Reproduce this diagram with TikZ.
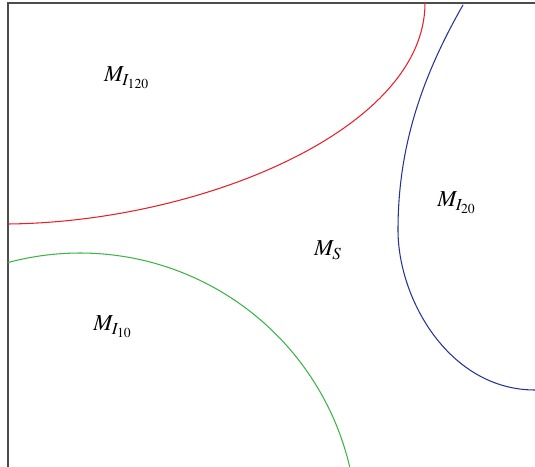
\documentclass[tikz,border=0pt]{standalone}
\usepackage{mathptmx}
\definecolor{curvered}{RGB}{232,30,40}
\definecolor{curveblue}{RGB}{40,50,150}
\definecolor{curvegreen}{RGB}{60,180,70}
\begin{document}
\begin{tikzpicture}[x=0.02cm,y=-0.02cm,line cap=round,
    region/.style={font=\fontsize{13}{15}\selectfont},
    boundary/.style={line width=0.6pt}]
  \useasboundingbox (0,0) rectangle (535,467);
  \draw[black!70,line width=1pt] (8,467) -- (8,3) -- (535,3);
  % region boundaries
  \draw[curvered,boundary] (8,224) .. controls (200,222) and (425,130) .. (425,3);
  \draw[curvegreen,boundary,domain=105.1:13.2,samples=60,smooth]
    plot ({80+277*cos(\x)},{530-277*sin(\x)});
  \draw[curveblue,boundary] (463,5) .. controls (420,80) and (398,150) .. (398,230)
    .. controls (398,300) and (450,390) .. (535,390);
  \node[region] (i120) at (127,78) {$M_{I_{120}}$};
  \node[region] (i20) at (457,203) {$M_{I_{20}}$};
  \node[region] (ms) at (328,250) {$M_{S}$};
  \node[region] (i10) at (113,327) {$M_{I_{10}}$};
\end{tikzpicture}
\end{document}
